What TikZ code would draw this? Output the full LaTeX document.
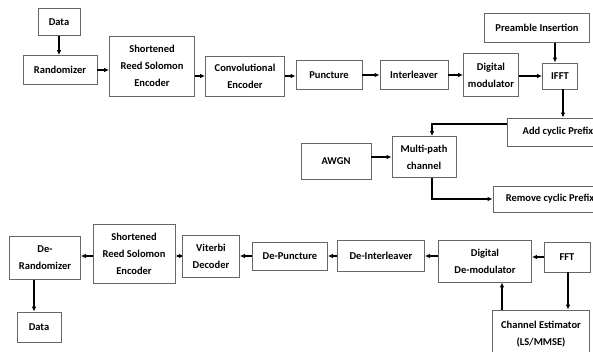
\documentclass[tikz,border=0pt]{standalone}
\usepackage{fontspec}
\setmainfont{Carlito}
\usetikzlibrary{
	positioning,
	arrows.meta
}

\tikzset{
	blk/.style={draw=black!60, line width=0.8pt, align=center, inner sep=1pt,
		font=\fontsize{10.5}{17}\selectfont\bfseries},
	flow/.style={-{Latex[length=5pt,width=4.5pt]}, line width=1.2pt}
}

\begin{document}
\begin{tikzpicture}[x=1pt,y=-1pt]
	\useasboundingbox (0,0) rectangle (593,352);
	\clip (0,0) rectangle (593,352);

	% transmitter
	\node[blk, minimum width=42, minimum height=27] (data1) at (59,22) {Data};
	\node[blk, minimum width=74, minimum height=29] (rand) at (60,70) {Randomizer};
	\node[blk, minimum width=85, minimum height=60] (srs1) at (152,66) {Shortened\\Reed Solomon\\Encoder};
	\node[blk, minimum width=79, minimum height=40] (conv) at (245,76) {Convolutional\\Encoder};
	\node[blk, minimum width=66, minimum height=29] (punc) at (329,75) {Puncture};
	\node[blk, minimum width=68, minimum height=29] (intl) at (414,75) {Interleaver};
	\node[blk, minimum width=55, minimum height=43] (dmod) at (491,75) {Digital\\modulator};
	\node[blk, minimum width=35, minimum height=26] (ifft) at (560,76) {IFFT};
	\node[blk, minimum width=105, minimum height=29] (pre) at (537,28) {Preamble Insertion};
	\node[blk, minimum width=102, minimum height=28] (acp) at (558,132) {Add cyclic Prefix};

	% channel
	\node[blk, minimum width=64, minimum height=41] (mpc) at (424,157) {Multi-path\\channel};
	\node[blk, minimum width=70, minimum height=36] (awgn) at (336,161) {AWGN};
	\node[blk, minimum width=114, minimum height=26] (rcp) at (550,199) {Remove cyclic Prefix};

	% receiver
	\node[blk, minimum width=46, minimum height=30] (fft) at (567,257) {FFT};
	\node[blk, minimum width=93, minimum height=42] (ddm) at (485,261) {Digital\\De-modulator};
	\node[blk, minimum width=87, minimum height=31] (dint) at (381,256) {De-Interleaver};
	\node[blk, minimum width=75, minimum height=28] (dpun) at (290,256) {De-Puncture};
	\node[blk, minimum width=57, minimum height=42] (vit) at (211,256) {Viterbi\\Decoder};
	\node[blk, minimum width=82, minimum height=59] (srs2) at (134,254) {Shortened\\Reed Solomon\\Encoder};
	\node[blk, minimum width=71, minimum height=43] (drand) at (45,258) {De-\\Randomizer};
	\node[blk, minimum width=44, minimum height=30] (data2) at (39,327) {Data};
	\node[blk, minimum width=97, minimum height=48] (chest) at (541,334) {Channel Estimator\\(LS/MMSE)};

	\draw[flow] (data1.south) -- (data1.south |- rand.north);
	\draw[flow] (rand.east) -- (rand.east -| srs1.west);
	\draw[flow] (srs1.east |- conv) -- (conv.west);
	\draw[flow] (conv.east) -- (conv.east -| punc.west);
	\draw[flow] (punc) -- (intl);
	\draw[flow] (intl) -- (dmod);
	\draw[flow] (dmod.east |- ifft) -- (ifft.west);
	\draw[flow] ([xshift=-5pt]ifft.north |- pre.south) -- ([xshift=-5pt]ifft.north);
	\draw[flow] ([xshift=3pt]ifft.south) -- ([xshift=3pt]ifft.south |- acp.north);
	\draw[flow] ([yshift=8pt]acp.west) -| ([xshift=8pt]mpc.north);
	\draw[flow] (awgn.east |- mpc) -- (mpc.west);
	\draw[flow] ([xshift=8pt]mpc.south) |- (rcp.west);

	\draw[flow] (fft.west) -- (fft.west -| ddm.east);
	\draw[flow] (ddm.west |- dint) -- (dint.east);
	\draw[flow] (dint) -- (dpun);
	\draw[flow] (dpun) -- (vit);
	\draw[flow] (vit.west) -- (vit.west -| srs2.east);
	\draw[flow] (srs2.west |- vit) -- (drand.east |- vit);
	\draw[flow] ([xshift=-5pt]data2.north |- drand.south) -- ([xshift=-5pt]data2.north);
	\draw[flow] ([xshift=1pt]fft.south) -- ([xshift=1pt]fft.south |- chest.north);
	\draw[flow] ([xshift=17pt]ddm.south |- chest.north) -- ([xshift=17pt]ddm.south);
\end{tikzpicture}
\end{document}
